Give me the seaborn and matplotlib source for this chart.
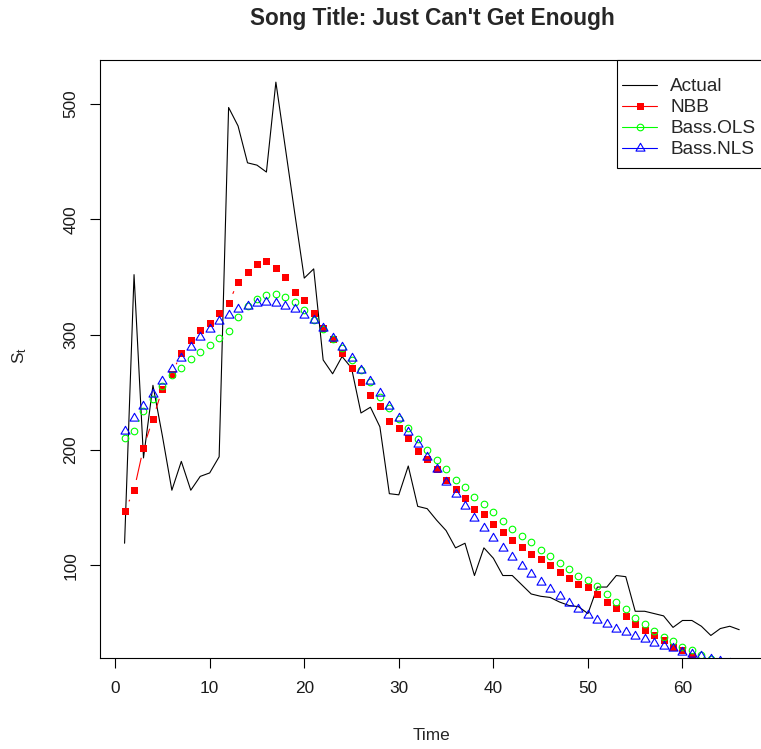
import numpy as np
import pandas as pd
import matplotlib
matplotlib.use("Agg")
import matplotlib.pyplot as plt
import seaborn as sns
from matplotlib.path import Path
from matplotlib.collections import LineCollection
from matplotlib.lines import Line2D
from matplotlib.patches import Rectangle

# ---------------- data ----------------
time = list(range(1, 67))

actual = [119, 352, 193, 256, 212, 165, 190, 165, 177, 180,
          194, 497, 481, 449, 447, 441, 519, 462, 405, 349,
          357, 278, 266, 281, 271, 232, 237, 220, 162, 161,
          186, 151, 149, 139, 130, 115, 119, 91, 115, 106,
          91, 91, 83, 75, 73, 72, 68, 65, 64, 58,
          81, 81, 91, 90, 60, 60, 58, 56, 46, 52,
          52, 47, 39, 45, 47, 44]

nbb = [147, 165, 202, 227, 253, 266, 284, 295, 304, 310,
       319, 327, 346, 354, 361, 364, 358, 350, 337, 330,
       319, 306, 296, 284, 271, 259, 248, 238, 225, 219,
       210, 199, 192, 183, 174, 166, 158, 149, 144, 136,
       129, 122, 116, 110, 105, 100, 94, 89, 84, 81,
       75, 68, 63, 56, 49, 44, 39, 35, 29, 26,
       21, 17, 13, 10, 7, 5]

bass_ols = [210, 216, 234, 244, 255, 265, 271, 279, 285, 291,
            297, 303, 315, 325, 331, 334, 335, 333, 328, 321,
            313, 305, 296, 288, 278, 269, 259, 246, 236, 227,
            219, 209, 200, 191, 183, 174, 168, 159, 153, 146,
            138, 131, 125, 120, 113, 108, 102, 97, 91, 87,
            82, 75, 68, 62, 54, 49, 43, 38, 34, 29,
            26, 22, 18.5, 15, 12, 9]

bass_nls = [216, 227.5, 238, 248.5, 260, 270, 279.5, 289, 297.5, 305,
            312, 317, 322, 325, 327, 328, 327, 325, 322, 317,
            313, 305.6, 297.4, 289.6, 279.5, 269.4, 260.1, 249.1, 238.1, 227.5,
            215.8, 205.2, 194.1, 183.2, 172.5, 162, 151.4, 141.2, 132.5, 123.9,
            114.7, 106.9, 99.6, 92.1, 85.7, 79.1, 73.3, 67.5, 61.7, 56.8,
            52.5, 49, 45, 41.6, 38.6, 35.7, 32.8, 30.2, 27.9, 25,
            22.7, 21, 19, 17, 15.5, 14]

series_names = ["Actual", "NBB", "Bass.OLS", "Bass.NLS"]
x_ticks = [0, 10, 20, 30, 40, 50, 60]
y_ticks = [100, 200, 300, 400, 500]
title = "Song Title: Just Can't Get Enough"

# ---------------- style ----------------
sns.set_style("ticks")
plt.rcParams['font.family'] = ['Liberation Sans', 'DejaVu Sans']
plt.rcParams['mathtext.default'] = 'regular'
plt.rcParams['mathtext.fontset'] = 'custom'
plt.rcParams['mathtext.rm'] = 'Liberation Sans'
plt.rcParams['mathtext.it'] = 'Liberation Sans'

DPI = 100
W, H = 761, 749
fig = plt.figure(figsize=(W / DPI, H / DPI), dpi=DPI)
fig.patch.set_facecolor("white")

# plot region in pixels (R-like)
left_px, right_px, top_px, bottom_px = 100, 763.8, 60, 657.6
ax = fig.add_axes([left_px / W, 1 - bottom_px / H,
                   (right_px - left_px) / W, (bottom_px - top_px) / H])
ax.set_facecolor("white")

df = pd.DataFrame({"Time": time, "Actual": actual, "NBB": nbb,
                   "Bass.OLS": bass_ols, "Bass.NLS": bass_nls})

# R-style axis ranges (4% extension)
xr = df["Time"].max() - df["Time"].min()
ax.set_xlim(df["Time"].min() - 0.04 * xr, df["Time"].max() + 0.04 * xr)
yr = df["Actual"].max() - df["Actual"].min()
ax.set_ylim(df["Actual"].min() - 0.04 * yr, df["Actual"].max() + 0.04 * yr)

LW = 0.8
px = 72.0 / DPI  # points per pixel

# R pch=2 triangle (centroid at the point)
tri = Path([(0, 1), (0.8660, -0.5), (-0.8660, -0.5), (0, 1)],
           [Path.MOVETO, Path.LINETO, Path.LINETO, Path.CLOSEPOLY])

sq_ms = 7.0 * px
circ_ms = 6.6 * px
tri_ms = 10.4 * px

sns.lineplot(data=df, x="Time", y="Actual", ax=ax, color="black",
             linewidth=LW, legend=False, sort=False)
sns.lineplot(data=df, x="Time", y="NBB", ax=ax, color="red", marker="s",
             linestyle="none", markersize=sq_ms, markeredgewidth=0,
             legend=False, sort=False)
sns.lineplot(data=df, x="Time", y="Bass.OLS", ax=ax, color="#00FF00", marker="o",
             linestyle="none", markersize=circ_ms, markerfacecolor="none",
             markeredgecolor="#00FF00", markeredgewidth=LW, legend=False, sort=False)
sns.lineplot(data=df, x="Time", y="Bass.NLS", ax=ax, color="blue", marker=tri,
             linestyle="none", markersize=tri_ms, markerfacecolor="none",
             markeredgecolor="blue", markeredgewidth=LW, legend=False, sort=False)

# R type="b": connecting segments with gaps around points
gap = 10.5 * DPI / 100.0
fig.canvas.draw()
inv = ax.transData.inverted()
for col, color in [("NBB", "red"), ("Bass.OLS", "#00FF00"), ("Bass.NLS", "blue")]:
    pts = ax.transData.transform(np.column_stack([df["Time"], df[col]]))
    segs = []
    for p0, p1 in zip(pts[:-1], pts[1:]):
        d = p1 - p0
        L = np.hypot(*d)
        if L > 2 * gap:
            u = d / L
            a, b = p0 + u * gap, p1 - u * gap
            segs.append(inv.transform(np.array([a, b])))
    if segs:
        ax.add_collection(LineCollection(segs, colors=color, linewidths=LW))

# axes styling
ax.set_xticks(x_ticks)
ax.set_yticks(y_ticks)
ax.set_xlabel("")
ax.set_ylabel("")
for s in ax.spines.values():
    s.set_visible(True)
    s.set_color("black")
    s.set_linewidth(LW)
ax.tick_params(axis="both", direction="out", length=10 * px, width=LW,
               color="black", labelsize=12.4, labelcolor="#1a1a1a")
ax.tick_params(axis="x", pad=9.5)
ax.tick_params(axis="y", pad=8.5)
for lab in ax.get_yticklabels():
    lab.set_rotation(90)
    lab.set_va("center")

cx = (left_px + right_px) / 2 / W
fig.text(cx, 1 - 18.5 / H, title, ha="center", va="center",
         fontsize=16.3, fontweight="bold")
fig.text(cx, 1 - 735 / H, "Time", ha="center", va="center", fontsize=12.4)
fig.text(20 / W, 1 - 356 / H, r"$\mathregular{S_t}$", ha="center", va="center",
         rotation=90, fontsize=12.4)

# ---------------- legend (R-style box) ----------------
handles = [
    Line2D([], [], color="black", lw=LW),
    Line2D([], [], color="red", lw=LW, marker="s", markersize=sq_ms, markeredgewidth=0),
    Line2D([], [], color="#00FF00", lw=LW, marker="o", markersize=circ_ms,
           markerfacecolor="none", markeredgewidth=LW),
    Line2D([], [], color="blue", lw=LW, marker=tri, markersize=tri_ms,
           markerfacecolor="none", markeredgewidth=LW),
]
LEG_FS = 13.7
leg_left_px, leg_top_px = 617, 73
leg = ax.legend(handles, series_names, loc="upper left",
                bbox_to_anchor=(leg_left_px / W, 1 - leg_top_px / H),
                bbox_transform=fig.transFigure,
                borderaxespad=0, frameon=False, fontsize=LEG_FS,
                handlelength=1.84, handletextpad=0.68, borderpad=0.27,
                labelspacing=0.19, numpoints=1)
fig.canvas.draw()
bb = leg.get_window_extent()
ax_bb = ax.get_window_extent()
pad_b = 5 * DPI / 100.0
frame = Rectangle((bb.x0, bb.y0 - pad_b), ax_bb.x1 - bb.x0 + 5,
                  ax_bb.y1 - bb.y0 + pad_b, transform=None,
                  facecolor="white", edgecolor="black", linewidth=LW, zorder=4)
fig.add_artist(frame)
leg.set_zorder(5)
leg.remove()
fig.add_artist(leg)

fig.savefig("out.png", dpi=DPI, facecolor="white")
